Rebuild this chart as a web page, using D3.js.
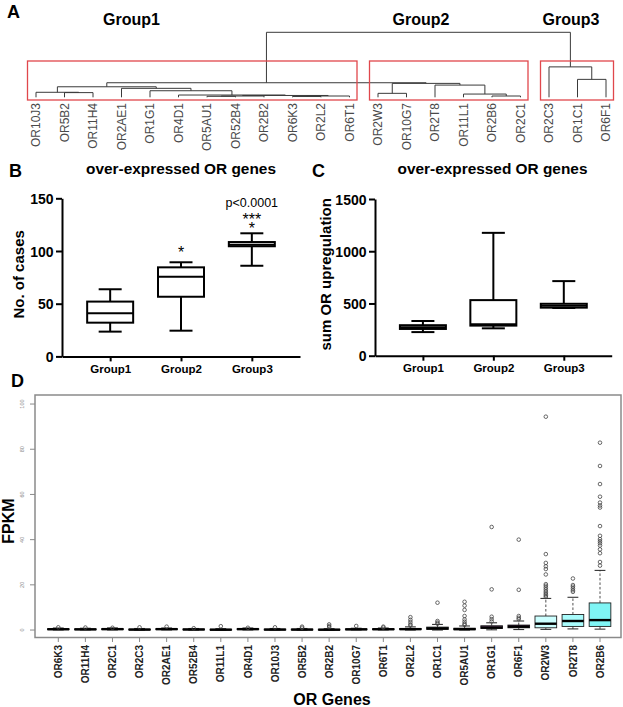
<!DOCTYPE html>
<html><head><meta charset="utf-8">
<script src="https://cdn.jsdelivr.net/npm/d3@7"></script>
<style>
body{margin:0;background:#fff}
svg{display:block;font-family:Arial,"Liberation Sans",Helvetica,sans-serif}
</style>
</head><body>
<svg id="chart" width="623" height="707"></svg>
<script>
// ---------------- DATA ----------------
// Panel A: dendrogram (merge heights, relative units; root = 100)
const dendroTree = {h:100, c:[
  {h:22.4, c:[
    {h:16.2, c:[
      {h:7.7, c:["OR10J3", {h:7.2, c:["OR5B2","OR11H4"]}]},
      {h:13.8, c:["OR2AE1", {h:10.1, c:["OR1G1", {h:3.5, c:["OR4D1",
        {h:2.8, c:[
          {h:2.0, c:[{h:1.5, c:["OR5AU1","OR52B4"]}, "OR2B2"]},
          {h:2.0, c:[{h:1.2, c:["OR6K3","OR2L2"]}, "OR6T1"]}
        ]}]}]}]}
    ]},
    {h:21.4, c:[
      {h:6.1, c:["OR2W3","OR10G7"]},
      {h:18.8, c:["OR2T8", {h:5.0, c:["OR11L1", {h:2.0, c:["OR2B6","OR2C1"]}]}]}
    ]}
  ]},
  {h:46.8, c:["OR2C3", {h:27.6, c:["OR1C1","OR6F1"]}]}
]};
const clusterNames = ["Group1","Group2","Group3"];
const clusterFirst = ["OR10J3","OR2W3","OR2C3"];
const clusterLast  = ["OR6T1","OR2C1","OR6F1"];

// Panel B: No. of cases (box: min, Q1, median, Q3, max)
const groups = ["Group1","Group2","Group3"];
const casesMin = [23.5, 24.4, 86];
const casesQ1  = [32, 56.6, 104.5];
const casesMed = [41, 75.6, 106];
const casesQ3  = [52, 84.5, 108.5];
const casesMax = [63.7, 89.3, 116.8];
const casesTicks = [0, 50, 100, 150];

// Panel C: sum OR upregulation
const sumMin = [226, 262, 457];
const sumQ1  = [256, 288, 460];
const sumMed = [272, 300, 478];
const sumQ3  = [292, 532, 497];
const sumMax = [332, 1176, 714];
const sumTicks = [0, 500, 1000, 1500];

// Panel D: FPKM per OR gene (whisker low, Q1, median, Q3, whisker high, outliers)
const genes = ["OR6K3","OR11H4","OR2C1","OR2C3","OR2AE1","OR52B4","OR11L1","OR4D1","OR10J3","OR5B2",
  "OR2B2","OR10G7","OR6T1","OR2L2","OR1C1","OR5AU1","OR1G1","OR6F1","OR2W3","OR2T8","OR2B6"];
const fpkmLow = [0.05,0.05,0.05,0,0.05,0,0,0.05,0,0, 0,0.05,0.05,0,0,0,0.1,0.2,0.3,0.5,0.4];
const fpkmQ1  = [0.2,0.15,0.2,0.1,0.2,0.1,0.05,0.2,0.1,0.1, 0.05,0.2,0.2,0.2,0.3,0.15,0.7,1.0,1.0,1.6,1.6];
const fpkmMed = [0.35,0.3,0.4,0.2,0.4,0.25,0.15,0.4,0.2,0.2, 0.15,0.3,0.35,0.4,0.7,0.4,1.1,1.5,2.8,4.0,4.4];
const fpkmQ3  = [0.55,0.5,0.6,0.4,0.6,0.45,0.35,0.6,0.4,0.4, 0.35,0.5,0.55,0.7,1.3,0.8,1.9,2.2,6.2,6.9,12];
const fpkmHigh= [0.9,0.8,0.95,0.7,0.9,0.7,0.6,0.9,0.7,0.7, 0.6,0.8,0.9,1.4,2.5,1.8,3.2,4.0,14,14.5,26.4];
const fpkmOut = [
  [1.2],[1.1],[1.0],[1.2],[1.5],[0.8],[1.7],[1.0],[1.2],[1.5,1.0],
  [2.5,1.8,1.3],[1.8],[1.5,1.1],[5.7,4.5,3.5,2.5,2.0],[12.1,4.0,3.3,2.8],
  [12.5,10.8,8.9,6.2,4.7,3.7,2.8,2.3],[45.6,18,5.9,4.8,3.8],[40,17.8,6.2,5.4,4.8],
  [94.4,33.6,29.7,28.2,27,24.6,20.3,19.6,18.8,18,17.2,16.5,15.8,15.2,14.6],
  [22.8,19.9,19.2,18.4,17.6,16.9],
  [82.9,72.6,64.6,59,56.4,55.1,54.2,46,41.7,40.2,39.3,38.4,37.4,35.7,34,30.1,28.5]
];
const fpkmTicks = [0,20,40,60,80,100];

// ---------------- STYLE ----------------
const geneFillPalette = ["#111","#111","#111","#111","#111","#111","#111","#111","#111","#111",
  "#111","#111","#111","#111","#3b5858","#222","#8a5a8a","#4a1848","#ccffff","#a9fcfc","#7ff5f5"];

// ---------------- DRAW ----------------
const svg = d3.select("#chart");
const BOLD = "bold";

function panelLetter(t, x, y){
  svg.append("text").attr("x",x).attr("y",y).text(t)
    .attr("font-size",18).attr("font-weight",BOLD).attr("fill","#000");
}

// ===== Panel A =====
panelLetter("A", 7, 18);
function leaves(n){ return typeof n==="string" ? [n] : n.c.flatMap(leaves); }
const leafOrder = leaves(dendroTree);
const xA = d3.scalePoint().domain(leafOrder).range([36, 606]);
const yA = d3.scaleLinear().domain([0,100]).range([97.3, 32.3]);
function lay(n){
  if (typeof n==="string") return {name:n, x:xA(n), h:0};
  const kids = n.c.map(lay);
  return {h:n.h, x:d3.mean(kids,k=>k.x), kids};
}
const rootA = lay(dendroTree);
const gA = svg.append("g").attr("stroke","#3a3a3a").attr("stroke-width",1).attr("fill","none");
(function drawNode(n){
  if (!n.kids) return;
  const xs = n.kids.map(k=>k.x);
  gA.append("line").attr("x1",d3.min(xs)).attr("x2",d3.max(xs)).attr("y1",yA(n.h)).attr("y2",yA(n.h));
  n.kids.forEach(k=>{
    gA.append("line").attr("x1",k.x).attr("x2",k.x).attr("y1",yA(n.h)).attr("y2",yA(k.h));
    drawNode(k);
  });
})(rootA);

// red cluster boxes
clusterNames.forEach((g,i)=>{
  const x0 = xA(clusterFirst[i]) - 8.5, x1 = xA(clusterLast[i]) + 7.5;
  svg.append("rect").attr("x",x0).attr("y",61).attr("width",x1-x0).attr("height",39)
    .attr("fill","none").attr("stroke","#e0474c").attr("stroke-width",1.3);
});
// group labels
const groupLabelX = [xA("OR2AE1")+10, xA("OR2T8")-14, xA("OR1C1")-6.5];
clusterNames.forEach((g,i)=>{
  svg.append("text").attr("x",groupLabelX[i]).attr("y",25).attr("text-anchor","middle")
    .attr("font-size",16).attr("font-weight",BOLD).text(g);
});
// leaf labels
svg.append("g").selectAll("text").data(leafOrder).join("text")
  .attr("transform",d=>`translate(${xA(d)},103) rotate(-90)`)
  .attr("text-anchor","end").attr("dy","0.36em")
  .attr("font-size",12).attr("fill","#4a4a4a").text(d=>d);

// ===== Box panel helper (B & C) =====
function boxPanel(opts){
  const {x0,x1,y0,y1,domain,ticks,mins,q1,med,q3,maxs,ylabel,ylabelX,title,titleX} = opts;
  const x = d3.scalePoint().domain(groups).range([x0,x1]).padding(0.68);
  const y = d3.scaleLinear().domain(domain).range([y0,y1]);
  const g = svg.append("g");
  const ya = g.append("g").attr("transform",`translate(${x0},0)`)
    .call(d3.axisLeft(y).tickValues(ticks).tickSize(6).tickSizeOuter(0).tickPadding(2.5).tickFormat(d3.format("d")));
  const xa = g.append("g").attr("transform",`translate(0,${y0})`)
    .call(d3.axisBottom(x).tickSize(5).tickSizeOuter(0).tickPadding(3.5));
  [ya,xa].forEach(a=>{
    a.selectAll("path,line").attr("stroke","#000").attr("stroke-width",2);
    a.selectAll("text").attr("font-family","Arial,'Liberation Sans',sans-serif").attr("font-weight",BOLD).attr("fill","#000");
  });
  ya.selectAll("text").attr("font-size",14).attr("dy","0.36em");
  xa.selectAll("text").attr("font-size",11.5);
  const bw = 46, cw = 23;
  groups.forEach((gr,i)=>{
    const cx = x(gr);
    const b = g.append("g").attr("stroke","#000").attr("stroke-width",2).attr("fill","none");
    b.append("line").attr("x1",cx).attr("x2",cx).attr("y1",y(maxs[i])).attr("y2",y(q3[i]));
    b.append("line").attr("x1",cx).attr("x2",cx).attr("y1",y(q1[i])).attr("y2",y(mins[i]));
    b.append("line").attr("x1",cx-cw/2).attr("x2",cx+cw/2).attr("y1",y(maxs[i])).attr("y2",y(maxs[i]));
    b.append("line").attr("x1",cx-cw/2).attr("x2",cx+cw/2).attr("y1",y(mins[i])).attr("y2",y(mins[i]));
    b.append("rect").attr("x",cx-bw/2).attr("width",bw).attr("y",y(q3[i])).attr("height",y(q1[i])-y(q3[i])).attr("fill","#fff");
    b.append("line").attr("x1",cx-bw/2).attr("x2",cx+bw/2).attr("y1",y(med[i])).attr("y2",y(med[i]));
  });
  svg.append("text").attr("transform",`translate(${ylabelX},${(y0+y1)/2-3}) rotate(-90)`)
    .attr("text-anchor","middle").attr("font-size",15).attr("font-weight",BOLD).text(ylabel);
  svg.append("text").attr("x",titleX).attr("y",174).attr("text-anchor","middle")
    .attr("font-size",15.4).attr("font-weight",BOLD).text(title);
  return {x,y};
}

// ===== Panel B =====
panelLetter("B", 9, 177);
const B = boxPanel({x0:62,x1:300,y0:356.4,y1:198.3,domain:[0,150],ticks:casesTicks,
  mins:casesMin,q1:casesQ1,med:casesMed,q3:casesQ3,maxs:casesMax,
  ylabel:"No. of cases",ylabelX:24,title:"over-expressed OR genes",titleX:181});
svg.append("text").attr("x",B.x("Group3")).attr("y",207).attr("text-anchor","middle")
  .attr("font-size",12.5).text("p<0.0001");
const stars = svg.append("text").attr("text-anchor","middle").attr("font-size",16);
stars.append("tspan").attr("x",B.x("Group3")).attr("y",225).text("***");
stars.append("tspan").attr("x",B.x("Group3")).attr("y",234).text("*");
svg.append("text").attr("x",B.x("Group2")).attr("y",257.5).attr("text-anchor","middle")
  .attr("font-size",16).text("*");

// ===== Panel C =====
panelLetter("C", 312, 177);
boxPanel({x0:375,x1:611.7,y0:355.7,y1:199,domain:[0,1500],ticks:sumTicks,
  mins:sumMin,q1:sumQ1,med:sumMed,q3:sumQ3,maxs:sumMax,
  ylabel:"sum OR upregulation",ylabelX:331,title:"over-expressed OR genes",titleX:492.5});

// ===== Panel D =====
panelLetter("D", 11, 387);
const frame = {l:35, r:621, t:395, b:637.5};
const xD = d3.scalePoint().domain(genes).range([58.3, 600]);
const yD = d3.scaleLinear().domain([-3.3, 104]).range([frame.b, frame.t]);
const fill = d3.scaleOrdinal().domain(genes).range(geneFillPalette);
const gD = svg.append("g");
gD.append("rect").attr("x",frame.l).attr("y",frame.t).attr("width",frame.r-frame.l).attr("height",frame.b-frame.t)
  .attr("fill","none").attr("stroke","#8a8a8a").attr("stroke-width",1.5);
// y ticks
fpkmTicks.forEach(t=>{
  gD.append("line").attr("x1",frame.l-5).attr("x2",frame.l).attr("y1",yD(t)).attr("y2",yD(t))
    .attr("stroke","#8a8a8a").attr("stroke-width",1);
  gD.append("text").attr("transform",`translate(22,${yD(t)}) rotate(-90)`).attr("text-anchor","middle")
    .attr("dy","0.35em").attr("font-size",5.5).attr("fill","#888").text(t);
});
// x ticks + labels
genes.forEach(gn=>{
  gD.append("line").attr("x1",xD(gn)).attr("x2",xD(gn)).attr("y1",frame.b).attr("y2",frame.b+4.5)
    .attr("stroke","#8a8a8a").attr("stroke-width",1);
});
gD.append("g").selectAll("text").data(genes).join("text")
  .attr("transform",d=>`translate(${xD(d)},645) rotate(-90)`).attr("text-anchor","end").attr("dy","0.36em")
  .attr("font-size",10).attr("font-weight",BOLD).attr("fill","#222").text(d=>d);
// boxes
const step = xD.step(), bwD = step*0.8, cwD = bwD*0.5;
genes.forEach((gn,i)=>{
  const cx = xD(gn);
  const b = gD.append("g");
  b.append("line").attr("x1",cx).attr("x2",cx).attr("y1",yD(fpkmQ3[i])).attr("y2",yD(fpkmHigh[i]))
    .attr("stroke","#222").attr("stroke-width",0.8).attr("stroke-dasharray","2.5,2");
  b.append("line").attr("x1",cx).attr("x2",cx).attr("y1",yD(fpkmQ1[i])).attr("y2",yD(fpkmLow[i]))
    .attr("stroke","#222").attr("stroke-width",0.8).attr("stroke-dasharray","2.5,2");
  [fpkmHigh[i], fpkmLow[i]].forEach(v=>{
    b.append("line").attr("x1",cx-cwD/2).attr("x2",cx+cwD/2).attr("y1",yD(v)).attr("y2",yD(v))
      .attr("stroke","#222").attr("stroke-width",1);
  });
  b.append("rect").attr("x",cx-bwD/2).attr("width",bwD).attr("y",yD(fpkmQ3[i]))
    .attr("height",Math.max(0.8,yD(fpkmQ1[i])-yD(fpkmQ3[i])))
    .attr("fill",fill(gn)).attr("stroke","#222").attr("stroke-width",0.9);
  b.append("line").attr("x1",cx-bwD/2).attr("x2",cx+bwD/2).attr("y1",yD(fpkmMed[i])).attr("y2",yD(fpkmMed[i]))
    .attr("stroke","#000").attr("stroke-width",2.4);
  b.selectAll("circle").data(fpkmOut[i]).join("circle")
    .attr("cx",cx).attr("cy",v=>yD(v)).attr("r",1.8)
    .attr("fill","none").attr("stroke","#444").attr("stroke-width",0.8);
});
svg.append("text").attr("transform",`translate(14,521) rotate(-90)`).attr("text-anchor","middle")
  .attr("font-size",16).attr("font-weight",BOLD).text("FPKM");
svg.append("text").attr("x",332).attr("y",705).attr("text-anchor","middle")
  .attr("font-size",16).attr("font-weight",BOLD).text("OR Genes");
</script>
</body></html>
